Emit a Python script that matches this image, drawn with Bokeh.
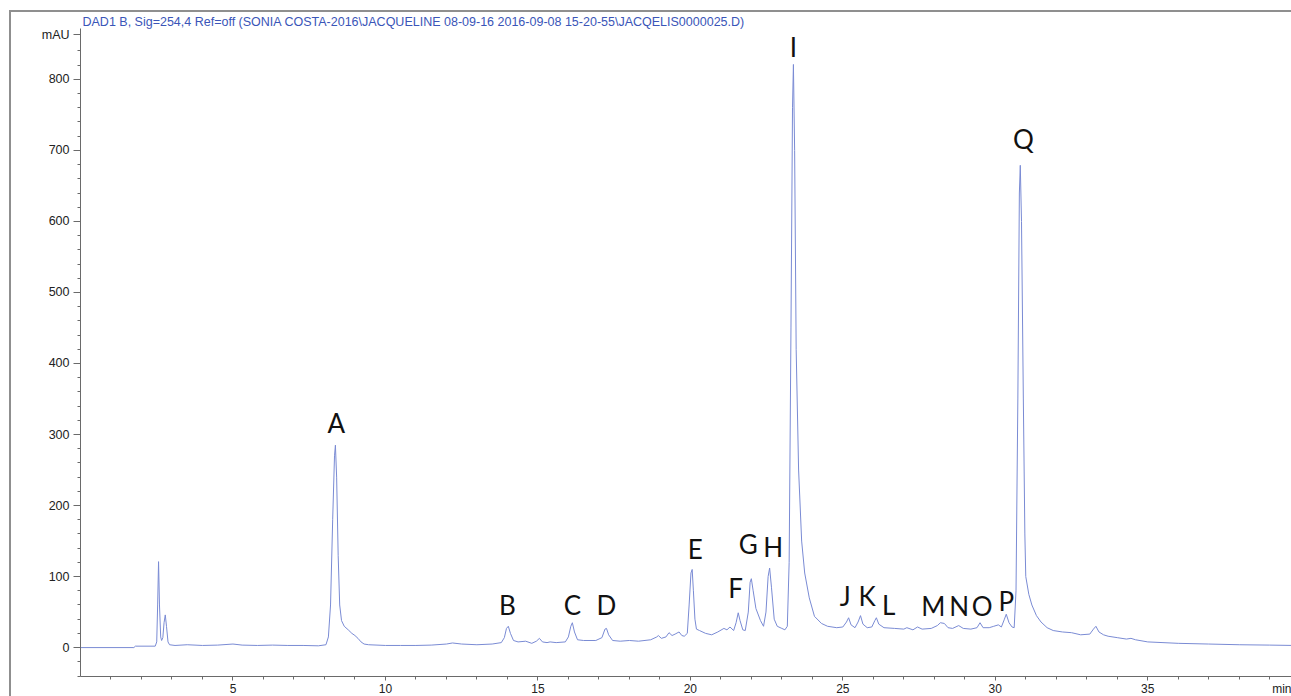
from bokeh.plotting import figure
from bokeh.models import FixedTicker, ColumnDataSource, Range1d
from bokeh.core.properties import value
from bokeh.embed import file_html
from bokeh.resources import INLINE

# ---- data ----
time_min = [0.0, 1.75, 1.8, 2.45, 2.5, 2.53, 2.56, 2.59, 2.63, 2.66, 2.7, 2.74, 2.78, 2.82, 2.87, 2.92,
            3.1, 3.5, 4.0, 4.5, 5.0, 5.3, 5.8, 6.3, 6.8, 7.3, 7.8, 8.05, 8.13, 8.2, 8.27, 8.33, 8.36,
            8.4, 8.45, 8.5, 8.56, 8.65, 8.78, 8.9, 9.0, 9.1, 9.2, 9.3, 9.45, 10.0, 10.5, 11.0, 11.5,
            12.0, 12.2, 12.5, 13.0, 13.5, 13.8, 13.9, 13.97, 14.03, 14.1, 14.2, 14.35, 14.6, 14.8,
            14.95, 15.05, 15.15, 15.3, 15.4, 15.6, 15.9, 16.0, 16.08, 16.13, 16.2, 16.3, 16.5, 16.9,
            17.1, 17.2, 17.25, 17.32, 17.45, 17.7, 18.0, 18.3, 18.7, 18.9, 18.95, 19.05, 19.2, 19.3,
            19.4, 19.5, 19.63, 19.72, 19.8, 19.9, 19.96, 20.02, 20.06, 20.1, 20.15, 20.2, 20.3, 20.5,
            20.7, 20.9, 21.1, 21.2, 21.3, 21.42, 21.5, 21.57, 21.63, 21.72, 21.8, 21.9, 21.96, 22.0,
            22.06, 22.15, 22.3, 22.4, 22.48, 22.55, 22.6, 22.66, 22.75, 22.85, 23.0, 23.1, 23.18,
            23.24, 23.3, 23.35, 23.38, 23.42, 23.47, 23.55, 23.65, 23.75, 23.9, 24.07, 24.3, 24.5,
            24.8, 25.0, 25.12, 25.19, 25.27, 25.4, 25.5, 25.58, 25.66, 25.8, 25.95, 26.05, 26.1,
            26.18, 26.35, 26.7, 27.0, 27.1, 27.3, 27.45, 27.6, 27.9, 28.1, 28.2, 28.33, 28.45, 28.6,
            28.8, 28.95, 29.2, 29.4, 29.5, 29.6, 29.8, 29.95, 30.1, 30.2, 30.3, 30.36, 30.45, 30.55,
            30.62, 30.68, 30.74, 30.79, 30.82, 30.86, 30.92, 30.97, 31.0, 31.1, 31.2, 31.35, 31.5,
            31.7, 31.9, 32.2, 32.5, 32.8, 33.1, 33.22, 33.3, 33.4, 33.55, 33.7, 34.0, 34.3, 34.45,
            34.6, 35.0, 35.5, 36.0, 37.0, 38.0, 39.0, 39.8]
absorbance_mAU = [0, 0, 2, 2, 8, 60, 121, 60, 15, 10, 14, 35, 46, 30, 8, 4,
                  3, 4, 3, 3.5, 5, 3.5, 3, 3.5, 3, 3, 2.5, 4, 15, 60, 180, 270, 285,
                  240, 130, 60, 38, 30, 25, 20, 17, 13, 8, 5, 4, 3, 3, 3, 3.5,
                  5, 6.5, 5, 4, 5, 7, 14, 27, 30, 20, 10, 8, 9, 6,
                  9, 13, 8, 7, 8, 7, 8, 15, 30, 35, 22, 11, 10, 10,
                  14, 26, 27, 18, 10, 9, 10, 9, 11, 15, 17, 13, 15, 21,
                  17, 19, 22, 17, 16, 20, 60, 105, 110, 80, 40, 26, 24, 20,
                  18, 22, 27, 25, 29, 24, 35, 49, 38, 25, 24, 50, 92, 97,
                  80, 55, 38, 30, 50, 100, 112, 85, 40, 30, 27, 25, 30,
                  120, 450, 760, 821, 700, 420, 250, 150, 105, 70, 44, 34, 30,
                  28, 29, 36, 42, 32, 28, 36, 45, 33, 28, 29, 38, 42,
                  33, 28, 27, 26, 28, 25, 29, 26, 27, 31, 35, 34, 28, 27,
                  31, 27, 26, 28, 35, 28, 28, 30, 32, 29, 40, 47, 35, 29,
                  28, 80, 350, 640, 679, 600, 350, 160, 100, 75, 60, 45, 36,
                  28, 24, 22, 21, 18, 19, 26, 30, 22, 18, 16, 14, 12, 13,
                  11, 8, 7, 6, 5, 4, 3.5, 3]

peak_names = ["A", "B", "C", "D", "E", "F", "G", "H", "I", "J", "K", "L", "M", "N", "O", "P", "Q"]
peak_label_time = [8.39, 14.0, 16.13, 17.25, 20.16, 21.48, 21.9, 22.72, 23.38, 25.08, 25.8, 26.5,
                   27.97, 28.82, 29.57, 30.36, 30.92]
peak_label_height = [316, 60, 60, 60, 139, 84, 146, 142, 845, 72, 72, 60, 58, 58, 58, 65, 716]

x_major = [5, 10, 15, 20, 25, 30, 35]
x_minor = [t for t in range(1, 40) if t % 5 != 0]
x_unit_pos = 39.77
x_unit = "min"
y_major = [0, 100, 200, 300, 400, 500, 600, 700, 800]
y_minor = [v for v in range(-40, 860, 20) if v % 100 != 0]
y_unit_pos = 863
y_unit = "mAU"

title_text = "DAD1 B, Sig=254,4 Ref=off (SONIA COSTA-2016\\JACQUELINE 08-09-16 2016-09-08 15-20-55\\JACQELIS0000025.D)"

p = figure(width=1280, height=684, output_backend="svg", toolbar_location=None,
           x_range=Range1d(0, 39.78), y_range=Range1d(-40.7, 871.6),
           min_border_left=69, min_border_right=0, min_border_top=13, min_border_bottom=19,
           title=title_text)
p.styles = {"margin-left": "9px", "margin-top": "10px",
            "border-left": "2px solid #8f8f8f", "border-top": "2px solid #8f8f8f",
            "box-sizing": "content-box"}

p.title.text_font = "Liberation Sans"
p.title.text_font_size = "12.5px"
p.title.text_font_style = "normal"
p.title.text_color = "#3a55b8"
p.title.standoff = 0
p.title.offset = 2
p.title.align = "left"

p.outline_line_color = None
p.grid.visible = False
p.background_fill_color = "white"
p.border_fill_color = "white"

for ax in (p.xaxis[0], p.yaxis[0]):
    ax.axis_line_color = "#6a6a6a"
    ax.major_tick_line_color = "#6a6a6a"
    ax.minor_tick_line_color = "#6a6a6a"
    ax.major_label_text_font = "Liberation Sans"
    ax.major_label_text_color = "#222222"
    ax.major_tick_in = 0
    ax.minor_tick_in = 0

p.xaxis[0].ticker = FixedTicker(ticks=x_major + [x_unit_pos], minor_ticks=x_minor)
p.xaxis[0].major_label_overrides = {x_unit_pos: x_unit}
p.xaxis[0].major_tick_out = 4
p.xaxis[0].minor_tick_out = 3
p.xaxis[0].major_label_text_font_size = "12px"
p.xaxis[0].major_label_standoff = 1

p.yaxis[0].ticker = FixedTicker(ticks=y_major + [y_unit_pos], minor_ticks=y_minor)
p.yaxis[0].major_label_overrides = {y_unit_pos: y_unit}
p.yaxis[0].major_tick_out = 7
p.yaxis[0].minor_tick_out = 3
p.yaxis[0].major_label_text_font_size = "12.5px"
p.yaxis[0].major_label_standoff = 4

p.line(time_min, absorbance_mAU, line_color="#7a8bd4", line_width=1)

src = ColumnDataSource(dict(x=peak_label_time, y=peak_label_height, t=peak_names))
p.text(x="x", y="y", text="t", source=src, text_font=value("Lato"), text_font_size="26px",
       text_color="#111111", text_align="center", text_baseline="middle")

open("out.html", "w").write(file_html(p, INLINE))
